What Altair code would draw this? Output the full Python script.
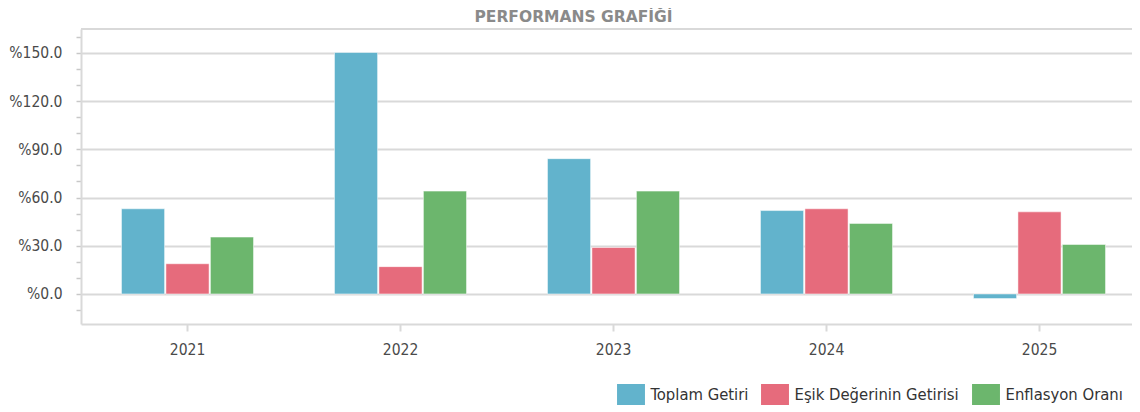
import altair as alt
import pandas as pd

# ---- data ----
years = ["2021", "2022", "2023", "2024", "2025"]
series_names = ["Toplam Getiri", "Eşik Değerinin Getirisi", "Enflasyon Oranı"]
toplam_getiri = [53.0, 150.3, 84.2, 51.9, -2.9]
esik_getirisi = [18.8, 17.0, 28.9, 53.0, 51.1]
enflasyon_orani = [35.4, 64.0, 64.0, 43.9, 30.8]
series_colors = ["#62b3cc", "#e66b7c", "#6cb66d"]
y_tick_values = list(range(-10, 161, 10))
chart_title = "PERFORMANS GRAFİĞİ"

rows = []
for name, vals in zip(series_names, [toplam_getiri, esik_getirisi, enflasyon_orani]):
    for yr, v in zip(years, vals):
        rows.append({"Yıl": yr, "Seri": name, "Değer": v})
df = pd.DataFrame(rows)

FONT = "DejaVu Sans Condensed"
W, H = 1065, 295
LINE = "#d9d9d9"

bars = alt.Chart(df).mark_bar(stroke="white", strokeWidth=1, strokeOpacity=0.5).encode(
    x=alt.X(
        "Yıl:N", sort=years,
        scale=alt.Scale(paddingInner=0.38, paddingOuter=0.19),
        axis=alt.Axis(title=None, labelAngle=0, tickSize=7, tickWidth=2, tickColor=LINE,
                      domainColor=LINE, domainWidth=2, labelPadding=11, grid=False,
                      labelFontSize=15.5),
    ),
    xOffset=alt.XOffset("Seri:N", sort=series_names, scale=alt.Scale(paddingInner=0.03)),
    y=alt.Y(
        "Değer:Q", stack=None,
        scale=alt.Scale(domain=[-18.7, 164.9], nice=False),
        axis=alt.Axis(
            title=None, values=y_tick_values,
            labelExpr="datum.value % 30 === 0 ? '%' + format(datum.value, '.1f') : ''",
            tickSize=5, tickWidth=1.5, tickColor="#c8c8c8", labelPadding=14,
            labelFontSize=15.5,
            domainColor=LINE, domainWidth=2,
            grid=True, gridColor=LINE, gridWidth=2,
            gridOpacity={"condition": {"test": "datum.value % 30 === 0", "value": 1}, "value": 0},
        ),
    ),
    color=alt.Color(
        "Seri:N", sort=series_names,
        scale=alt.Scale(domain=series_names, range=series_colors),
        legend=alt.Legend(
            title=None, orient="none", legendX=539.5, legendY=355, direction="horizontal",
            symbolType="M-1.33,-1H1.33V1H-1.33Z", symbolSize=441, symbolStrokeWidth=0,
            symbolOpacity=1, labelFont=FONT, labelFontSize=16.5, labelColor="#333333",
            labelOffset=9, labelLimit=400, columnPadding=12, padding=0,
        ),
    ),
)

top_line = alt.Chart(df).mark_rule(color=LINE, strokeWidth=2).encode(
    x=alt.value(0), x2=alt.value(W), y=alt.value(0)
)

title_text = alt.Chart(pd.DataFrame({"t": [chart_title]})).mark_text(
    font="DejaVu Sans", fontWeight="bold", fontSize=15.5, color="#8a8a8a",
    align="center", baseline="alphabetic",
).encode(text="t:N", x=alt.value(492.5), y=alt.value(-7.5))

# the page body is 1124px wide: keep the svg at exactly that width (no css scaling)
chart = alt.layer(bars, top_line, title_text).properties(
    width=W, height=H,
    autosize=alt.AutoSizeParams(type="none"),
    padding={"left": 73, "top": 21, "right": -14, "bottom": 88},
).configure_view(stroke=None).configure_axis(
    labelFont=FONT, labelColor="#4a4a4a"
)

chart.save("out.html", embed_options={"renderer": "svg", "actions": False})
